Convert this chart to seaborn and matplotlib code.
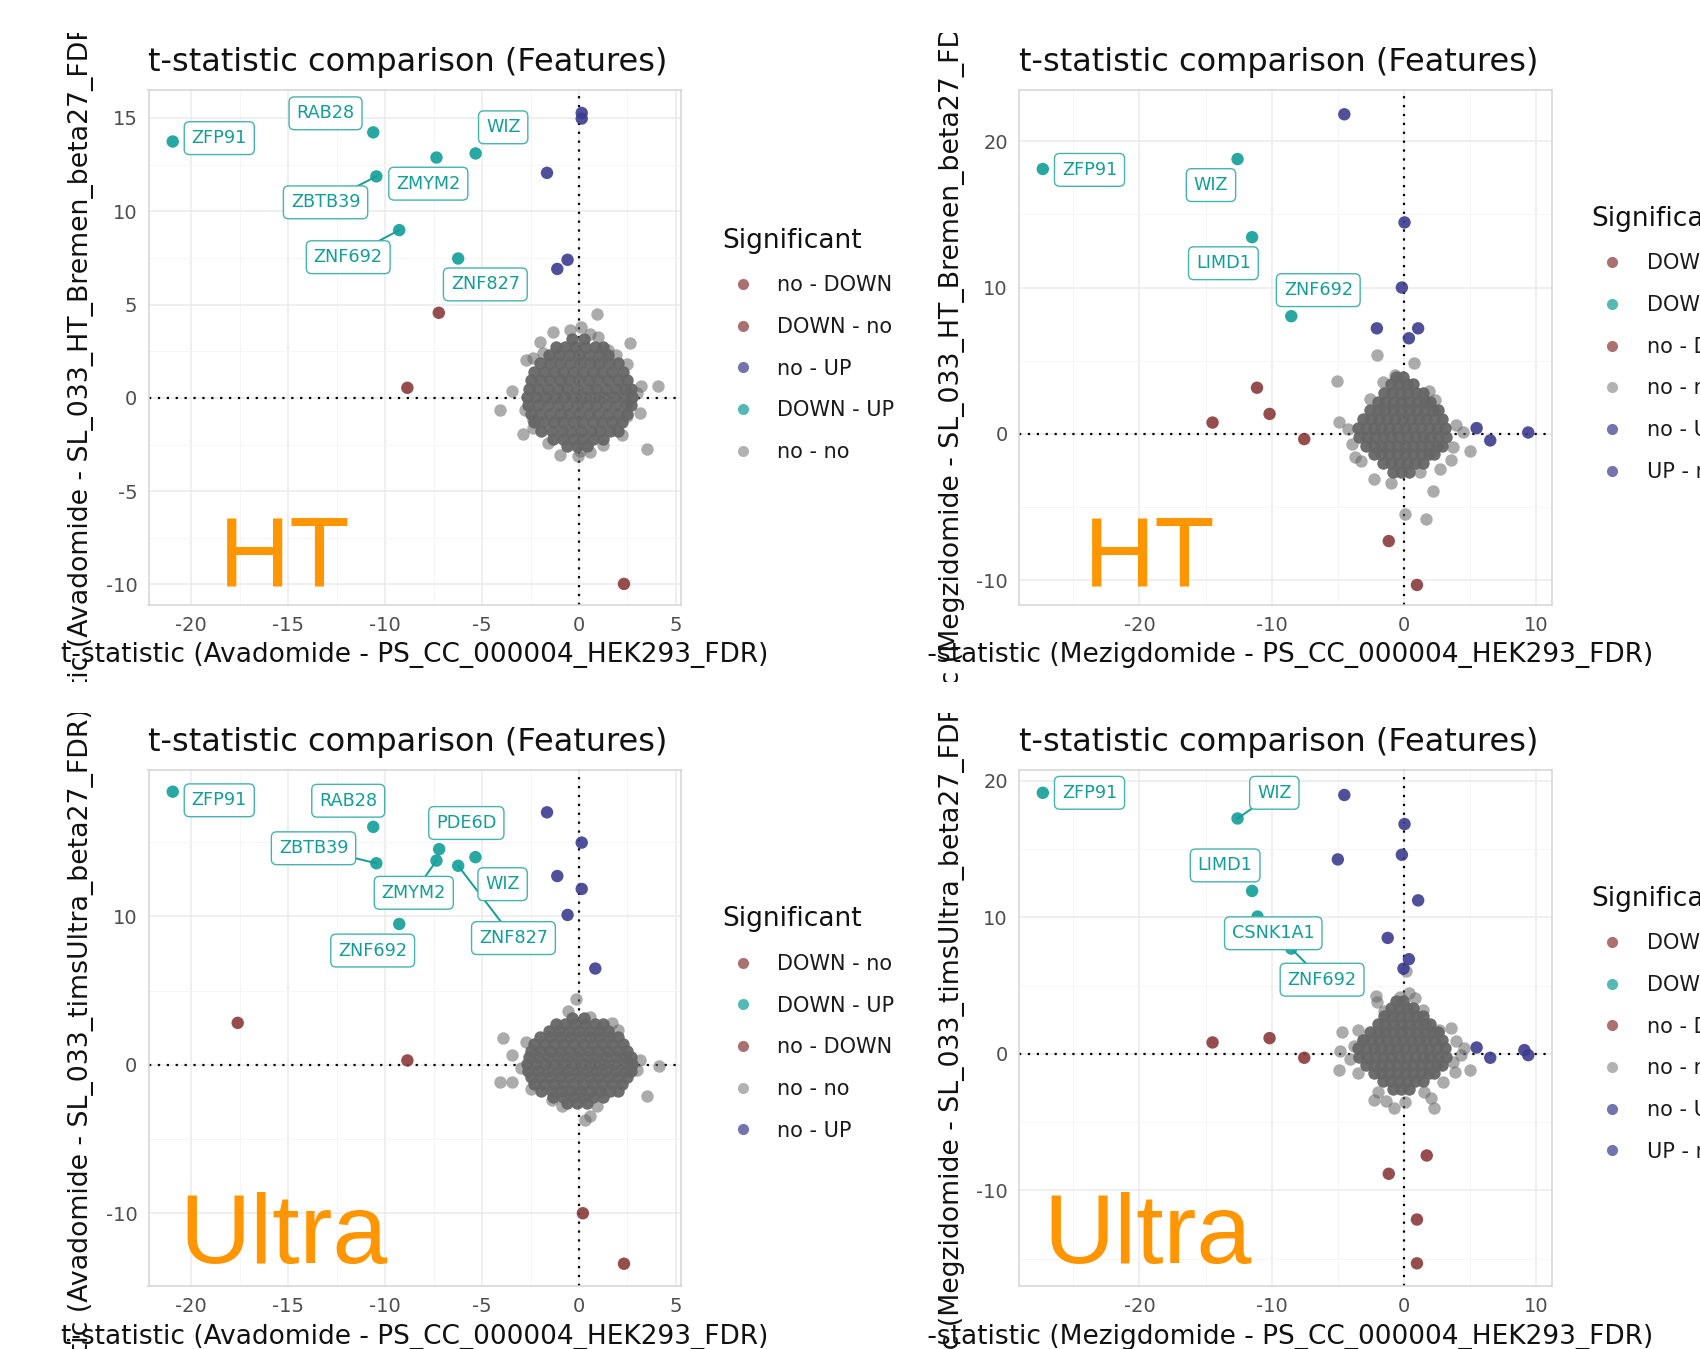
import matplotlib
matplotlib.use("Agg")
import matplotlib.pyplot as plt
import seaborn as sns
import pandas as pd
from matplotlib.lines import Line2D
from matplotlib.ticker import MultipleLocator
from matplotlib.transforms import Bbox, TransformedBbox

# ------------------------------------------------------------------ data
# dense gray cloud (estimated), rows of (y, [x ...])
CORE_AVA = [
    (3.15, [-0.35, 0.25]),
    (2.75, [-1.2, -0.7, -0.2, 0.3, 0.8, 1.25]),
    (2.3, [-1.55, -1.05, -0.5, 0.0, 0.5, 1.05, 1.5]),
    (1.85, [-2.0, -1.5, -1.0, -0.45, 0.05, 0.55, 1.05, 1.55, 2.0]),
    (1.4, [-2.3, -1.8, -1.3, -0.8, -0.3, 0.2, 0.7, 1.2, 1.7, 2.25]),
    (0.95, [-2.5, -2.0, -1.5, -1.0, -0.5, 0.0, 0.5, 1.0, 1.5, 2.0, 2.5]),
    (0.5, [-2.6, -2.1, -1.6, -1.1, -0.6, -0.1, 0.4, 0.9, 1.4, 1.9, 2.35, 2.7]),
    (0.05, [-2.7, -2.2, -1.7, -1.2, -0.7, -0.2, 0.3, 0.8, 1.3, 1.8, 2.3, 2.75]),
    (-0.4, [-2.65, -2.1, -1.6, -1.1, -0.6, -0.1, 0.4, 0.9, 1.4, 1.9, 2.4, 2.7]),
    (-0.85, [-2.5, -2.0, -1.5, -1.0, -0.5, 0.0, 0.5, 1.0, 1.5, 2.0, 2.5]),
    (-1.3, [-2.3, -1.8, -1.3, -0.8, -0.3, 0.2, 0.7, 1.2, 1.7, 2.2]),
    (-1.75, [-1.95, -1.4, -0.9, -0.4, 0.1, 0.6, 1.1, 1.6, 2.0]),
    (-2.2, [-1.35, -0.8, -0.3, 0.2, 0.7, 1.25]),
    (-2.6, [-0.6, -0.1, 0.4]),
]
CORE_MEZ = [
    (3.9, [-0.6, -0.1]),
    (3.4, [-1.0, -0.4, 0.2, 0.7]),
    (2.8, [-1.5, -0.9, -0.3, 0.3, 0.9, 1.4]),
    (2.2, [-2.0, -1.4, -0.8, -0.2, 0.4, 1.0, 1.6, 2.0]),
    (1.6, [-2.6, -2.0, -1.4, -0.8, -0.2, 0.4, 1.0, 1.6, 2.2, 2.6]),
    (1.0, [-3.1, -2.5, -1.9, -1.3, -0.7, -0.1, 0.5, 1.1, 1.7, 2.3, 2.9]),
    (0.4, [-3.5, -2.9, -2.3, -1.7, -1.1, -0.5, 0.1, 0.7, 1.3, 1.9, 2.5, 3.1]),
    (-0.2, [-3.4, -2.8, -2.2, -1.6, -1.0, -0.4, 0.2, 0.8, 1.4, 2.0, 2.6, 3.2]),
    (-0.8, [-2.9, -2.3, -1.7, -1.1, -0.5, 0.1, 0.7, 1.3, 1.9, 2.5, 2.9]),
    (-1.4, [-2.3, -1.7, -1.1, -0.5, 0.1, 0.7, 1.3, 1.9, 2.3]),
    (-2.0, [-1.6, -1.0, -0.4, 0.2, 0.8, 1.4]),
    (-2.6, [-0.8, -0.2, 0.4]),
]

# sparse gray points ("no - no") per panel
P1_GRAY_X = [0.95, -1.33, -0.46, 0.09, -2.01, 0.57, 1.0, 2.63, -2.74, -2.36, -1.84, 1.51, 1.91, 2.46,
             -3.48, 3.18, 4.06, 2.98, -4.08, -2.79, 3.15, 2.46, -2.39, -2.87, -2.36, 2.2, -1.58, -0.98,
             0.05, 0.57, 1.26, 3.49, -0.03]
P1_GRAY_Y = [4.52, 3.52, 3.66, 3.81, 3.0, 3.4, 3.27, 2.95, 2.02, 2.14, 2.41, 2.59, 2.32, 1.79,
             0.36, 0.63, 0.63, 0.27, -0.63, -0.63, -0.8, -0.95, -1.16, -1.91, -1.61, -2.0, -2.41, -3.04,
             -2.86, -2.91, -2.5, -2.73, -3.13]
P2_GRAY_X = [-2.04, 0.73, -5.04, -0.71, -4.91, 4.46, 5.01, -3.73, -3.22, -2.29, -0.96, 2.19, 0.05,
             1.64, 3.58, 2.7, 3.7, 2.32, -1.59, 1.18, -4.2, 3.9, -3.9, -2.6, 1.9]
P2_GRAY_Y = [5.4, 4.85, 3.64, 4.05, 0.8, 0.11, -1.18, -1.59, -1.87, -3.12, -3.37, -3.94, -5.47,
             -5.85, -1.82, -2.39, -0.91, 2.28, 3.53, -2.62, 0.3, 0.6, -0.7, 2.4, 2.9]
P3_GRAY_X = [-0.15, -0.55, 0.57, 1.69, 2.0, -3.94, -2.74, -3.43, 3.15, 4.1, -3.01, -4.08, -3.44,
             -2.5, 3.49, -1.41, -0.9, 0.57, 0.31, 0.91, 2.98]
P3_GRAY_Y = [4.42, 3.59, 3.21, 2.81, 2.36, 1.8, 1.5, 0.63, 0.34, -0.07, -0.22, -1.17, -1.17,
             -1.62, -2.13, -2.36, -2.8, -3.48, -3.7, -2.8, -0.34]
P4_GRAY_X = [-2.09, -2.04, -0.33, 0.38, 0.81, 0.18, -1.54, 1.44, -4.69, -3.48, 2.64, 3.58, 3.95,
             4.51, 4.33, -4.81, -4.94, -3.48, 5.01, 3.88, 2.95, -1.96, -2.29, -1.39, -0.78, 0.05,
             1.49, 2.07, 2.24, -3.1, -4.1, 3.7, -3.8]
P4_GRAY_Y = [4.25, 3.84, 4.2, 4.45, 4.08, 6.04, 3.18, 3.23, 1.64, 1.76, 1.76, 1.88, 0.98,
             0.42, -0.07, 0.24, -1.17, -1.37, -1.17, -1.3, -2.03, -2.76, -3.37, -3.42, -3.99, -3.55,
             -2.76, -3.25, -3.99, 1.03, -0.4, -0.6, 0.6]

# significant points per panel
P1_X = [-20.95, -10.61, -7.35, -5.33, -10.45, -9.27, -6.23,
        0.14, 0.14, -1.65, -0.59, -1.12, -7.23, -8.85, 2.32]
P1_Y = [13.74, 14.23, 12.88, 13.10, 11.87, 8.99, 7.47,
        15.27, 14.97, 12.06, 7.40, 6.91, 4.56, 0.54, -9.97]
P1_SIG = ["DOWN - UP", "DOWN - UP", "DOWN - UP", "DOWN - UP", "DOWN - UP", "DOWN - UP", "DOWN - UP",
          "no - UP", "no - UP", "no - UP", "no - UP", "no - UP", "DOWN - no", "DOWN - no", "no - DOWN"]

P2_X = [-27.3, -12.58, -11.48, -8.52,
        -4.51, 0.04, -0.16, -2.05, 1.07, 0.37, 5.49, 6.52, 9.39,
        -11.11, -10.16, -14.47, -7.54, -1.15, 0.98]
P2_Y = [18.1, 18.78, 13.44, 8.04,
        21.84, 14.45, 10.0, 7.21, 7.21, 6.53, 0.39, -0.45, 0.09,
        3.15, 1.36, 0.77, -0.36, -7.33, -10.33]
P2_SIG = ["DOWN - UP", "DOWN - UP", "DOWN - UP", "DOWN - UP",
          "no - UP", "no - UP", "no - UP", "no - UP", "no - UP", "no - UP", "UP - no", "UP - no", "UP - no",
          "DOWN - no", "DOWN - no", "DOWN - no", "DOWN - no", "no - DOWN", "no - DOWN"]

P3_X = [-20.95, -10.61, -10.45, -7.21, -7.35, -6.23, -5.34, -9.27,
        -1.65, 0.14, -1.12, 0.14, -0.59, 0.84, -17.6, -8.85, 0.2, 2.32]
P3_Y = [18.39, 16.02, 13.57, 14.52, 13.75, 13.4, 13.98, 9.48,
        17.0, 14.96, 12.71, 11.84, 10.09, 6.48, 2.82, 0.29, -10.0, -13.4]
P3_SIG = ["DOWN - UP", "DOWN - UP", "DOWN - UP", "DOWN - UP", "DOWN - UP", "DOWN - UP", "DOWN - UP", "DOWN - UP",
          "no - UP", "no - UP", "no - UP", "no - UP", "no - UP", "no - UP",
          "DOWN - no", "DOWN - no", "no - DOWN", "no - DOWN"]

P4_X = [-27.3, -12.58, -11.48, -11.07, -8.52,
        -4.51, 0.04, -0.16, -5.0, 1.07, -1.23, 0.37, -0.04, 5.49, 6.52, 9.1, 9.39,
        -14.47, -10.16, -7.54, 1.72, -1.15, 0.98, 0.98]
P4_Y = [19.13, 17.25, 11.94, 10.06, 7.72,
        18.97, 16.84, 14.59, 14.25, 11.25, 8.5, 6.94, 6.25, 0.47, -0.28, 0.28, -0.09,
        0.84, 1.16, -0.28, -7.44, -8.78, -12.13, -15.34]
P4_SIG = ["DOWN - UP", "DOWN - UP", "DOWN - UP", "DOWN - UP", "DOWN - UP",
          "no - UP", "no - UP", "no - UP", "no - UP", "no - UP", "no - UP", "no - UP", "no - UP",
          "UP - no", "UP - no", "UP - no", "UP - no",
          "DOWN - no", "DOWN - no", "DOWN - no", "no - DOWN", "no - DOWN", "no - DOWN", "no - DOWN"]

# gene labels (label text, index of labelled point)
P1_LABELS = ["ZFP91", "RAB28", "ZMYM2", "WIZ", "ZBTB39", "ZNF692", "ZNF827"]
P2_LABELS = ["ZFP91", "WIZ", "LIMD1", "ZNF692"]
P3_LABELS = ["ZFP91", "RAB28", "ZBTB39", "PDE6D", "ZMYM2", "ZNF827", "WIZ", "ZNF692"]
P4_LABELS = ["ZFP91", "WIZ", "LIMD1", "CSNK1A1", "ZNF692"]

# legend orders
P1_LEGEND = ["no - DOWN", "DOWN - no", "no - UP", "DOWN - UP", "no - no"]
P2_LEGEND = ["DOWN - no", "DOWN - UP", "no - DOWN", "no - no", "no - UP", "UP - no"]
P3_LEGEND = ["DOWN - no", "DOWN - UP", "no - DOWN", "no - no", "no - UP"]
P4_LEGEND = ["DOWN - no", "DOWN - UP", "no - DOWN", "no - no", "no - UP", "UP - no"]

X_AVA = "t-statistic (Avadomide - PS_CC_000004_HEK293_FDR)"
X_MEZ = "t-statistic (Mezigdomide - PS_CC_000004_HEK293_FDR)"
Y_LABELS = ["t-statistic (Avadomide - SL_033_HT_Bremen_beta27_FDR)",
            "t-statistic (Megzidomide - SL_033_HT_Bremen_beta27_FDR)",
            "t-statistic (Avadomide - SL_033_timsUltra_beta27_FDR)",
            "t-statistic (Megzidomide - SL_033_timsUltra_beta27_FDR)"]
TITLE = "t-statistic comparison (Features)"
TAGS = ["HT", "HT", "Ultra", "Ultra"]

# ------------------------------------------------------------------ layout / style
BROWN, TEAL, NAVY, GRAY = "#8B3A3A", "#129E98", "#3D3D8F", "#666666"
PAL = {"DOWN - no": BROWN, "no - DOWN": BROWN, "no - UP": NAVY, "UP - no": NAVY,
       "DOWN - UP": TEAL, "no - no": GRAY}
ORANGE = "#FF9500"
PT = 80  # marker area

sns.set_theme(style="white")
plt.rcParams["font.family"] = ["DejaVu Sans"]
plt.rcParams["axes.unicode_minus"] = False

W, H = 1700, 1349
fig = plt.figure(figsize=(W / 100, H / 100), dpi=100)


def flat(rows):
    xs, ys = [], []
    for yv, xl in rows:
        xs += list(xl)
        ys += [yv] * len(xl)
    return xs, ys


def pbox(x0, y0, x1, y1):
    return TransformedBbox(Bbox.from_extents(x0 / W, 1 - y1 / H, x1 / W, 1 - y0 / H), fig.transFigure)


panels = [
    dict(rect=(148.5, 90, 681, 605), xlim=(-22.2, 5.26), ylim=(-11.1, 16.5), xm=5, ym=5,
         core=CORE_AVA, gx=P1_GRAY_X, gy=P1_GRAY_Y, x=P1_X, y=P1_Y, sig=P1_SIG,
         labels=P1_LABELS, lidx=[0, 1, 2, 3, 4, 5, 6],
         lx=[-18.55, -13.07, -7.77, -3.91, -13.07, -11.9, -4.83],
         ly=[13.92, 15.25, 11.48, 14.5, 10.48, 7.54, 6.08], seg=[0, 0, 0, 0, 1, 1, 0],
         xlab=X_AVA, tag=(-15.2, -10.06), leg=P1_LEGEND, legpos=(722, 227.5),
         clip=(57, 33, 927, 682)),
    dict(rect=(1019, 90, 1551.5, 605), xlim=(-29.1, 11.15), ylim=(-11.7, 23.5), xm=10, ym=10,
         core=CORE_MEZ, gx=P2_GRAY_X, gy=P2_GRAY_Y, x=P2_X, y=P2_Y, sig=P2_SIG,
         labels=P2_LABELS, lidx=[0, 1, 2, 3],
         lx=[-23.77, -14.59, -13.65, -6.48], ly=[18.04, 17.0, 11.66, 9.82], seg=[0, 0, 0, 0],
         xlab=X_MEZ, tag=(-19.26, -10.37), leg=P2_LEGEND, legpos=(1591.6, 205.8),
         clip=(927, 33, 1800, 682)),
    dict(rect=(148.5, 770, 681, 1286), xlim=(-22.2, 5.26), ylim=(-14.9, 19.85), xm=5, ym=10,
         core=CORE_AVA, gx=P3_GRAY_X, gy=P3_GRAY_Y, x=P3_X, y=P3_Y, sig=P3_SIG,
         labels=P3_LABELS, lidx=[0, 1, 2, 3, 4, 5, 6, 7],
         lx=[-18.55, -11.9, -13.69, -5.81, -8.52, -3.38, -3.94, -10.64],
         ly=[17.81, 17.78, 14.58, 16.28, 11.58, 8.53, 12.16, 7.69], seg=[0, 0, 1, 0, 1, 1, 0, 0],
         xlab=X_AVA, tag=(-15.26, -13.36), leg=P3_LEGEND, legpos=(722, 906.2),
         clip=(57, 713, 927, 1362)),
    dict(rect=(1019, 770, 1551.5, 1286), xlim=(-29.1, 11.15), ylim=(-17.0, 20.8), xm=10, ym=10,
         core=CORE_MEZ, gx=P4_GRAY_X, gy=P4_GRAY_Y, x=P4_X, y=P4_Y, sig=P4_SIG,
         labels=P4_LABELS, lidx=[0, 1, 2, 3, 4],
         lx=[-23.77, -9.8, -13.52, -9.88, -6.19], ly=[19.13, 19.13, 13.81, 8.84, 5.44],
         seg=[0, 1, 0, 0, 1],
         xlab=X_MEZ, tag=(-19.39, -15.35), leg=P4_LEGEND, legpos=(1591.6, 885.6),
         clip=(927, 713, 1800, 1362)),
]

for i, p in enumerate(panels):
    x0, y0, x1, y1 = p["rect"]
    ax = fig.add_axes([x0 / W, 1 - y1 / H, (x1 - x0) / W, (y1 - y0) / H])
    ax.set_facecolor("white")
    ax.set_axisbelow(True)
    ax.set_xlim(*p["xlim"])
    ax.set_ylim(*p["ylim"])
    ax.xaxis.set_major_locator(MultipleLocator(p["xm"]))
    ax.xaxis.set_minor_locator(MultipleLocator(p["xm"] / 2))
    ax.yaxis.set_major_locator(MultipleLocator(p["ym"]))
    ax.yaxis.set_minor_locator(MultipleLocator(p["ym"] / 2))
    ax.grid(which="major", color="#EBEBEB", lw=1.1)
    ax.grid(which="minor", color="#F5F5F5", lw=0.7)
    for s in ax.spines.values():
        s.set_color("#D4D4D4")
        s.set_linewidth(1.1)
    ax.tick_params(which="both", length=0, labelsize=14, labelcolor="#4D4D4D", pad=8)

    ax.axhline(0, color="black", lw=1.6, ls=(0, (1, 3)), zorder=1)
    ax.axvline(0, color="black", lw=1.6, ls=(0, (1, 3)), zorder=1)

    cx, cy = flat(p["core"])
    sns.scatterplot(x=p["gx"], y=p["gy"], color=GRAY, s=PT, alpha=0.55, linewidth=0, ax=ax,
                    legend=False, zorder=2)
    sns.scatterplot(x=cx, y=cy, color=GRAY, s=PT, alpha=0.95, linewidth=0, ax=ax,
                    legend=False, zorder=2)
    df = pd.DataFrame({"x": p["x"], "y": p["y"], "Significant": p["sig"]})
    sns.scatterplot(data=df, x="x", y="y", hue="Significant", palette=PAL, s=PT, alpha=0.9,
                    linewidth=0, ax=ax, legend=False, zorder=3)

    # repel-style labels
    for name, idx, lx, ly, sg in zip(p["labels"], p["lidx"], p["lx"], p["ly"], p["seg"]):
        if sg:
            ax.plot([lx, p["x"][idx]], [ly, p["y"][idx]], color=TEAL, lw=1.4, zorder=4)
        ax.text(lx, ly, name, ha="center", va="center", fontsize=12.7, color=TEAL, zorder=5,
                bbox=dict(boxstyle="round,pad=0.42,rounding_size=0.3", fc="white",
                          ec="#45B3AE", lw=1.0))

    ax.text(p["tag"][0], p["tag"][1], TAGS[i], ha="center", va="baseline", fontsize=71,
            color=ORANGE, family=["Liberation Sans", "DejaVu Sans"], zorder=2.5)

    # titles / axis labels
    ax.text(0, 1 + 28.0 / (y1 - y0), TITLE, transform=ax.transAxes,
            ha="left", va="center", fontsize=23, color="#111111")
    ax.set_xlabel(p["xlab"], fontsize=19, color="#111111")
    ax.xaxis.set_label_coords(0.5, -50.5 / (y1 - y0))
    ax.xaxis.label.set_va("center")
    ax.set_ylabel(Y_LABELS[i], fontsize=19.3, color="#111111")
    ax.yaxis.set_label_coords(-0.126, 0.405)
    ax.yaxis.label.set_va("center")
    cb = pbox(*p["clip"])
    for lab in (ax.xaxis.label, ax.yaxis.label):
        lab.set_clip_box(cb)
        lab.set_clip_on(True)

    # legend
    handles = [Line2D([0], [0], marker="o", ls="none", markersize=8, markeredgewidth=0,
                      markerfacecolor=PAL[c], alpha=0.5 if c == "no - no" else 0.72)
               for c in p["leg"]]
    lx0, ly0 = p["legpos"]
    leg = ax.legend(handles, p["leg"], title="Significant", loc="upper left",
                    bbox_to_anchor=(lx0 / W, 1 - ly0 / H), bbox_transform=fig.transFigure,
                    frameon=False, fontsize=15, title_fontsize=19, borderpad=0,
                    borderaxespad=0, handlelength=2.0, handletextpad=0.64,
                    labelspacing=1.04, alignment="left")
    for t in leg.get_texts():
        t.set_color("#1A1A1A")
    leg.get_title().set_color("#111111")

fig.savefig("out.png", dpi=100, facecolor="white")
